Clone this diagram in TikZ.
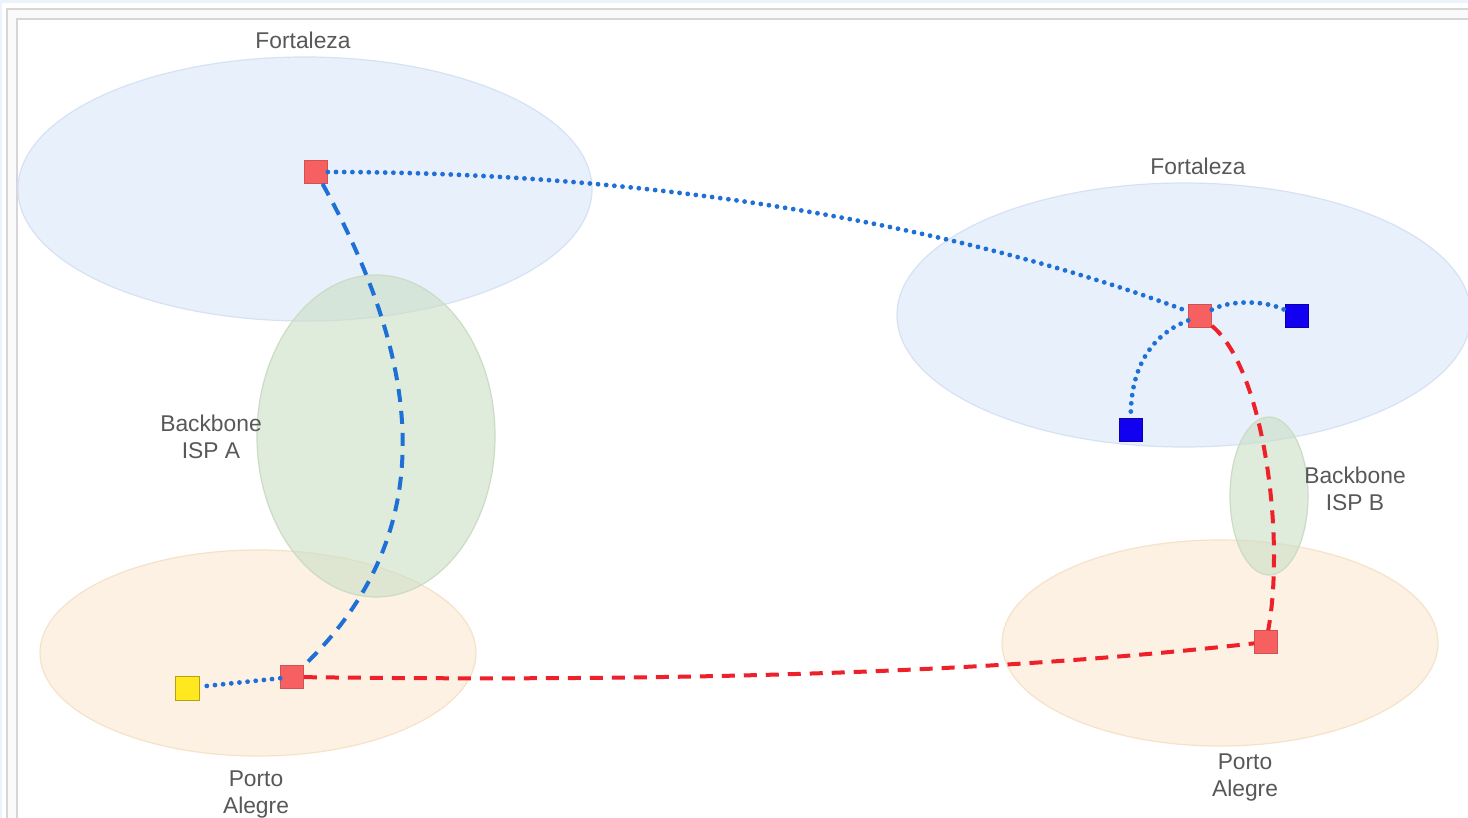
\documentclass[tikz,border=0pt]{standalone}
\usepackage{fontspec}
\setmainfont{Liberation Sans}
\usetikzlibrary{arrows,positioning,shapes}
\definecolor{pagestrip}{RGB}{236,243,252}
\definecolor{framegray}{RGB}{214,214,216}
\definecolor{cityblue}{RGB}{232,240,252}
\definecolor{citybluedraw}{RGB}{214,226,244}
\definecolor{cityorange}{RGB}{253,241,228}
\definecolor{cityorangedraw}{RGB}{246,226,200}
\definecolor{ispgreen}{RGB}{202,222,196}
\definecolor{ispgreendraw}{RGB}{204,220,196}
\definecolor{routerred}{RGB}{246,96,96}
\definecolor{hostblue}{RGB}{18,0,240}
\definecolor{hostyellow}{RGB}{255,232,30}
\definecolor{linkblue}{RGB}{30,112,215}
\definecolor{linkred}{RGB}{238,32,42}
\definecolor{labelgray}{RGB}{88,88,88}

\begin{document}
\begin{tikzpicture}[x=0.5pt,y=-0.5pt,line width=1pt,>=latex,
  fortzone/.style={shape=ellipse,draw=citybluedraw,fill=cityblue,line width=0.6pt,minimum width=287pt,minimum height=132pt},
  portozone/.style={shape=ellipse,draw=cityorangedraw,fill=cityorange,line width=0.6pt,minimum width=218pt,minimum height=103pt},
  backbone/.style={shape=ellipse,draw=ispgreendraw,fill=ispgreen,fill opacity=0.6,line width=0.6pt},
  router/.style={rectangle,draw=routerred!85!black,fill=routerred,line width=0.3pt,minimum size=11.5pt,inner sep=0pt},
  host/.style={rectangle,line width=0.3pt,minimum size=11.5pt,inner sep=0pt},
  dotlink/.style={linkblue,line width=2.4pt,line cap=round,dash pattern=on 0pt off 4.1pt},
  dashlink/.style={line width=2pt,dash pattern=on 6.5pt off 4.5pt},
  citylabel/.style={text=labelgray,font=\fontsize{11.4}{13.5}\selectfont,align=center,inner sep=0pt}]
\useasboundingbox (0,0) rectangle (1468,818);
\clip (0,0) rectangle (1468,818);

% page frame
\fill[white] (0,0) rectangle (1468,818);
\fill[pagestrip] (0,0) rectangle (1468,3);
\fill[pagestrip] (0,0) rectangle (2,818);
\draw[framegray,fill=gray!4] (6.5,9.5) rectangle (1490,840);
\draw[framegray,fill=white] (16.5,19.5) rectangle (1490,840);

% cities
\node[fortzone] (fortA) at (305,189) {};
\node[fortzone] (fortB) at (1184,315) {};
\node[portozone] (portoA) at (258,653) {};
\node[portozone] (portoB) at (1220,643) {};

% backbones
\node[backbone,minimum width=119pt,minimum height=161pt] (ispA) at (376,436) {};
\node[backbone,minimum width=39pt,minimum height=79pt] (ispB) at (1269,496) {};

\node[citylabel,above=4pt of fortA.north,xshift=-1pt,anchor=base] (fortAlbl) {Fortaleza};
\node[citylabel,above=4pt of fortB.north,xshift=7pt,anchor=base] (fortBlbl) {Fortaleza};
\node[citylabel] (portoAlbl) at (256,795) {Porto\\Alegre};
\node[citylabel] (portoBlbl) at (1245,778) {Porto\\Alegre};
\node[citylabel] (ispAlbl) at (211,437) {Backbone\\ISP A};
\node[citylabel] (ispBlbl) at (1355,489) {Backbone\\ISP B};

% routers and hosts
\node[router] (rA) at (316,172) {};
\node[router] (rB) at (1200,316) {};
\node[router] (rP) at (292,677) {};
\node[router] (rQ) at (1266,642) {};
\node[host,draw=hostblue!70!black,fill=hostblue] (hB1) at (1297,316) {};
\node[host,draw=hostblue!70!black,fill=hostblue] (hB2) at (1131,430) {};
\node[host,draw=hostyellow!70!black,fill=hostyellow,minimum size=12pt] (hY) at (187,688) {};

% links
\draw[dotlink] (rA) .. controls (700,172) and (1000,240) .. (rB);
\draw[dashlink,linkblue] (rA) .. controls (420,360) and (445,530) .. (rP);
\draw[dotlink] (rP) -- (hY);
\draw[dashlink,linkred] (rP) .. controls (700,682) and (1000,672) .. (rQ);
\draw[dashlink,linkred] (rB) .. controls (1265,370) and (1285,540) .. (rQ);
\draw[dotlink] (rB) .. controls (1230,300) and (1265,300) .. (hB1);
\draw[dotlink] (rB) .. controls (1150,335) and (1130,370) .. (hB2);
\end{tikzpicture}
\end{document}
